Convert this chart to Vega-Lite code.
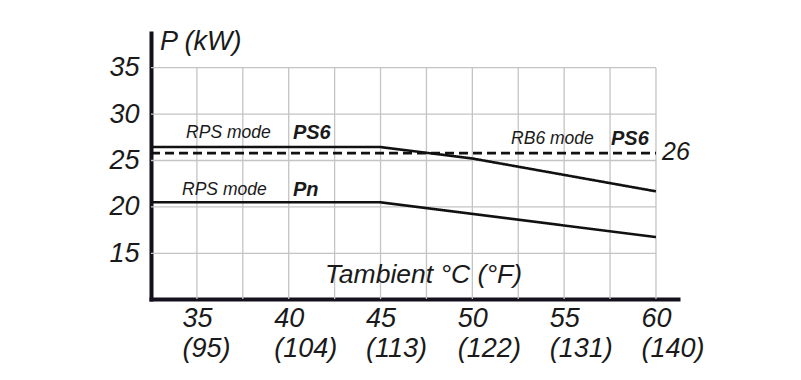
{
  "$schema": "https://vega.github.io/schema/vega-lite/v6.json",
  "width": 527,
  "height": 266,
  "autosize": {"type": "none"},
  "padding": {"left": 151, "top": 33, "right": 123, "bottom": 81},
  "background": "white",
  "config": {
    "view": {"stroke": null},
    "font": "Liberation Sans",
    "text": {"font": "Liberation Sans", "fontStyle": "italic", "color": "#1a1a1a"}
  },
  "datasets": {
    "gridx": [{"x": 35}, {"x": 37.5}, {"x": 40}, {"x": 42.5}, {"x": 45}, {"x": 47.5}, {"x": 50}, {"x": 52.5}, {"x": 55}, {"x": 57.5}, {"x": 60}],
    "gridy": [{"y": 15}, {"y": 20}, {"y": 25}, {"y": 30}, {"y": 35}],
    "curves": [
      {"s": "PS6 RPS", "x": 32.5, "y": 26.45},
      {"s": "PS6 RPS", "x": 45, "y": 26.45},
      {"s": "PS6 RPS", "x": 50, "y": 25.22},
      {"s": "PS6 RPS", "x": 60, "y": 21.68},
      {"s": "Pn RPS", "x": 32.5, "y": 20.5},
      {"s": "Pn RPS", "x": 45, "y": 20.5},
      {"s": "Pn RPS", "x": 60, "y": 16.75},
      {"s": "PS6 RB6", "x": 32.5, "y": 25.8},
      {"s": "PS6 RB6", "x": 60, "y": 25.8}
    ],
    "modes": [
      {"t": "RPS mode", "x": 34.41, "y": 27.96},
      {"t": "RPS mode", "x": 34.19, "y": 21.82},
      {"t": "RB6 mode", "x": 52.11, "y": 27.32}
    ],
    "names": [
      {"t": "PS6", "x": 40.23, "y": 27.96},
      {"t": "Pn", "x": 40.23, "y": 21.82},
      {"t": "PS6", "x": 57.55, "y": 27.32}
    ],
    "value26": [{"t": "26", "x": 60.33, "y": 25.92}],
    "ytitle": [{"t": "P (kW)", "x": 32.99, "y": 37.77}],
    "xtitle": [{"t": "Tambient °C (°F)", "x": 41.98, "y": 12.66}]
  },
  "layer": [
    {
      "data": {"name": "gridx"},
      "mark": {"type": "rule", "color": "#c4c4c4", "strokeWidth": 1.3},
      "encoding": {
        "x": {
          "field": "x", "type": "quantitative",
          "scale": {"domain": [32.5, 61.2], "nice": false, "zero": false},
          "axis": {
            "title": null,
            "values": [35, 40, 45, 50, 55, 60],
            "grid": false, "ticks": false,
            "domainColor": "#15111c", "domainWidth": 4, "domainCap": "square",
            "labelFont": "Liberation Sans", "labelFontStyle": "italic",
            "labelFontSize": 27, "labelColor": "#1a1a1a",
            "labelLineHeight": 30, "labelPadding": 6,
            "labelAlign": "left", "labelOffset": -15,
            "labelOverlap": false, "labelFlush": false, "labelBound": false,
            "labelExpr": "[datum.label, '(' + format(datum.value * 9 / 5 + 32, 'd') + ')']"
          }
        },
        "y": {
          "datum": 10.08, "type": "quantitative",
          "scale": {"domain": [10.08, 38.74], "nice": false, "zero": false}
        },
        "y2": {"datum": 35}
      }
    },
    {
      "data": {"name": "gridy"},
      "mark": {"type": "rule", "color": "#c4c4c4", "strokeWidth": 1.3},
      "encoding": {
        "y": {
          "field": "y", "type": "quantitative",
          "axis": {
            "title": null,
            "values": [15, 20, 25, 30, 35],
            "grid": false, "ticks": false,
            "domainColor": "#15111c", "domainWidth": 4, "domainCap": "square",
            "labelFont": "Liberation Sans", "labelFontStyle": "italic",
            "labelFontSize": 27, "labelColor": "#1a1a1a",
            "labelPadding": 12, "labelOverlap": false, "labelBound": false, "labelFlush": false
          }
        },
        "x": {"datum": 32.5, "type": "quantitative"},
        "x2": {"datum": 60}
      }
    },
    {
      "data": {"name": "curves"},
      "mark": {"type": "line", "strokeWidth": 2.6, "clip": false},
      "encoding": {
        "x": {"field": "x", "type": "quantitative", "axis": {"title": null}},
        "y": {"field": "y", "type": "quantitative", "axis": {"title": null}},
        "detail": {"field": "s"},
        "color": {"value": "#111111"},
        "strokeDash": {
          "field": "s", "type": "nominal", "legend": null,
          "scale": {"domain": ["PS6 RPS", "Pn RPS", "PS6 RB6"], "range": [[1, 0], [1, 0], [9, 5]]}
        }
      }
    },
    {
      "data": {"name": "modes"},
      "mark": {"type": "text", "align": "left", "baseline": "middle", "fontSize": 17.5, "fontStyle": "italic"},
      "encoding": {
        "x": {"field": "x", "type": "quantitative", "axis": {"title": null}},
        "y": {"field": "y", "type": "quantitative", "axis": {"title": null}},
        "text": {"field": "t"}
      }
    },
    {
      "data": {"name": "names"},
      "mark": {"type": "text", "align": "left", "baseline": "middle", "fontSize": 20, "fontStyle": "italic", "fontWeight": "bold"},
      "encoding": {
        "x": {"field": "x", "type": "quantitative", "axis": {"title": null}},
        "y": {"field": "y", "type": "quantitative", "axis": {"title": null}},
        "text": {"field": "t"}
      }
    },
    {
      "data": {"name": "value26"},
      "mark": {"type": "text", "align": "left", "baseline": "middle", "fontSize": 25, "fontStyle": "italic"},
      "encoding": {
        "x": {"field": "x", "type": "quantitative", "axis": {"title": null}},
        "y": {"field": "y", "type": "quantitative", "axis": {"title": null}},
        "text": {"field": "t"}
      }
    },
    {
      "data": {"name": "ytitle"},
      "mark": {"type": "text", "align": "left", "baseline": "middle", "fontSize": 27, "fontStyle": "italic"},
      "encoding": {
        "x": {"field": "x", "type": "quantitative", "axis": {"title": null}},
        "y": {"field": "y", "type": "quantitative", "axis": {"title": null}},
        "text": {"field": "t"}
      }
    },
    {
      "data": {"name": "xtitle"},
      "mark": {"type": "text", "align": "left", "baseline": "middle", "fontSize": 26.5, "fontStyle": "italic"},
      "encoding": {
        "x": {"field": "x", "type": "quantitative", "axis": {"title": null}},
        "y": {"field": "y", "type": "quantitative", "axis": {"title": null}},
        "text": {"field": "t"}
      }
    }
  ]
}
